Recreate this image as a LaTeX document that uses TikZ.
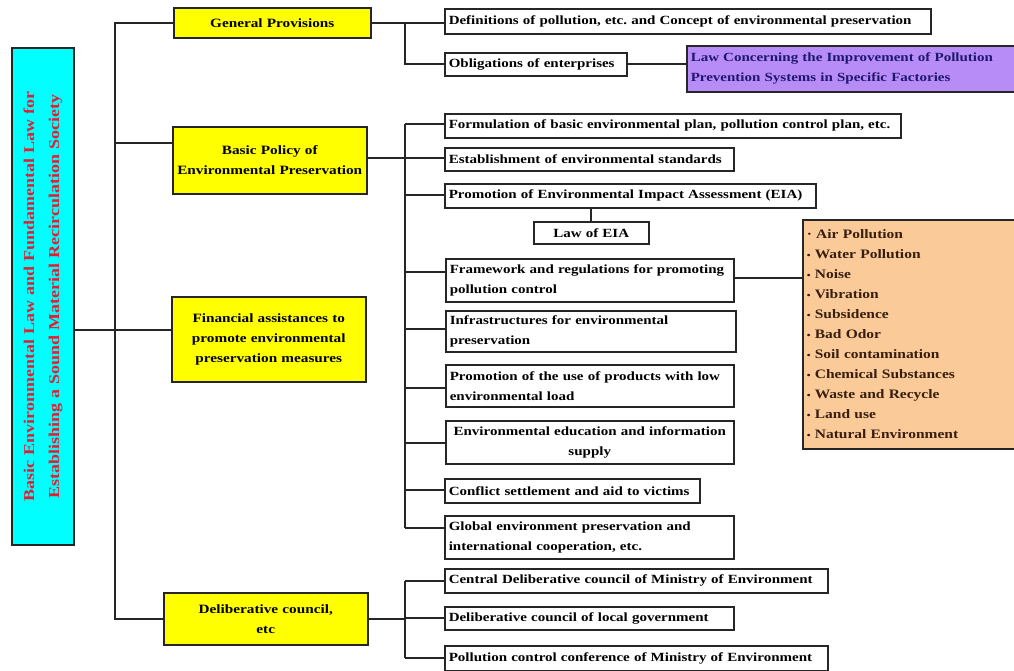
\documentclass[tikz,border=0pt]{standalone}
\usepackage{fontspec}
\setmainfont{Liberation Serif}[FakeStretch=1.2]
\frenchspacing
\definecolor{lawred}{RGB}{228,30,50}
\definecolor{lawcyan}{RGB}{0,255,255}
\definecolor{lawyellow}{RGB}{255,255,0}
\definecolor{lawpurple}{RGB}{184,140,246}
\definecolor{lawnavy}{RGB}{30,24,110}
\definecolor{laworange}{RGB}{250,202,152}
\definecolor{lawbrown}{RGB}{55,30,15}
\tikzset{
  conn/.style={line width=1.6pt, draw=black!85},
  basebox/.style={draw=black!85, line width=1.5pt, anchor=north west,
    inner xsep=4pt, inner ysep=1pt, align=left,
    font=\bfseries\fontsize{12.5}{20}\selectfont},
  sz/.style n args={2}{minimum width=#1pt, minimum height=#2pt,
    text width=\dimexpr#1pt-8pt\relax},
  wbox/.style={basebox, fill=white},
  ybox/.style={basebox, fill=lawyellow, align=center,
    font=\bfseries\fontsize{12.7}{20}\selectfont},
}
\begin{document}
\begin{tikzpicture}[x=1pt, y=-1pt]
\useasboundingbox (0,0) rectangle (1014,670);
\fill[white] (0,0) rectangle (1014,670);

% root law, text running bottom to top
\node[draw=black!85, line width=2.2pt, fill=lawcyan, rotate=90,
  minimum width=497pt, minimum height=62pt, inner sep=2pt,
  text width=485pt, align=center, text=lawred,
  font=\bfseries\fontsize{15}{25}\selectfont] (root) at (43,296.5)
  {Basic Environmental Law and Fundamental Law for\\
   Establishing a Sound Material Recirculation Society};

% chapters
\node[ybox, sz={197}{30}] (gp) at (173,7) {General Provisions};
\node[ybox, sz={194}{67}] (bp) at (172,126) {Basic Policy of\\Environmental Preservation};
\node[ybox, sz={194}{85}] (fin) at (171,296) {Financial assistances to\\promote environmental\\preservation measures};
\node[ybox, sz={204}{52}] (dc) at (163,592) {Deliberative council,\\etc};

% general provisions
\node[wbox, sz={486}{25}] (def) at (444,8) {Definitions of pollution, etc. and Concept of environmental preservation};
\node[wbox, sz={182}{23}] (obl) at (444,52) {Obligations of enterprises};
\node[basebox, fill=lawpurple, text=lawnavy, sz={340}{46},
  font=\bfseries\fontsize{12.5}{20}\selectfont] (law) at (686,45)
  {Law Concerning the Improvement of Pollution\\Prevention Systems in Specific Factories};

% basic policy
\node[wbox, sz={456}{24}] (form) at (444,113) {Formulation of basic environmental plan, pollution control plan, etc.};
\node[wbox, sz={289}{23}] (est) at (444,147) {Establishment of environmental standards};
\node[wbox, sz={371}{24}] (eia) at (444,183) {Promotion of Environmental Impact Assessment (EIA)};
\node[wbox, sz={115}{22}, align=center] (leia) at (533,221) {Law of EIA};
\node[wbox, sz={288}{43}] (fw) at (445,258) {Framework and regulations for promoting\\pollution control};
\node[wbox, sz={290}{41}] (inf) at (445,310) {Infrastructures for environmental\\preservation};
\node[wbox, sz={288}{42}] (prod) at (445,364) {Promotion of the use of products with low\\environmental load};
\node[wbox, sz={288}{43}, align=center] (edu) at (445,420) {Environmental education and information\\supply};
\node[wbox, sz={255}{24}] (conf) at (444,478) {Conflict settlement and aid to victims};
\node[wbox, sz={289}{43}] (glob) at (444,515) {Global environment preservation and\\international cooperation, etc.};

% pollution types
\node[basebox, fill=laworange, text=lawbrown, sz={220}{229}, inner xsep=4pt,
  font=\bfseries\fontsize{12.9}{20}\selectfont] (ora) at (802,219)
  {· Air Pollution\\
   {\fontsize{9}{9}\selectfont•} Water Pollution\\
   {\fontsize{9}{9}\selectfont•} Noise\\
   {\fontsize{9}{9}\selectfont•} Vibration\\
   {\fontsize{9}{9}\selectfont•} Subsidence\\
   {\fontsize{9}{9}\selectfont•} Bad Odor\\
   {\fontsize{9}{9}\selectfont•} Soil contamination\\
   {\fontsize{9}{9}\selectfont•} Chemical Substances\\
   {\fontsize{9}{9}\selectfont•} Waste and Recycle\\
   {\fontsize{9}{9}\selectfont•} Land use\\
   {\fontsize{9}{9}\selectfont•} Natural Environment};

% deliberative councils
\node[wbox, sz={383}{24}] (cent) at (444,568) {Central Deliberative council of Ministry of Environment};
\node[wbox, sz={289}{23}] (loc) at (444,606) {Deliberative council of local government};
\node[wbox, sz={383}{25}] (pcc) at (444,645) {Pollution control conference of Ministry of Environment};

% connectors
\coordinate (tk) at (115,0);
\coordinate (va) at (405,0);
\draw[conn] (root.south |- 0,330) -- (fin.west |- 0,330);
\draw[conn] (gp.west) -| (tk |- dc.west) -- (dc.west);
\draw[conn] (tk |- 0,143) -- (bp.west |- 0,143);

\draw[conn] (gp.east) -- (def.west |- gp.east);
\draw[conn] (va |- gp.east) |- (obl.west);
\draw[conn] (obl.east) -- (law.west |- obl.east);

\draw[conn] (bp.east |- 0,158) -- (va |- 0,158);
\draw[conn] (va |- 0,124) -- (va |- 0,528);
\foreach \n/\yy in {form/124, est/158, eia/195, fw/272, inf/329, prod/388, edu/443, conf/490, glob/528}
  \draw[conn] (va |- 0,\yy) -- (\n.west |- 0,\yy);
\draw[conn] (eia.south -| leia.north) -- (leia.north);
\draw[conn] (fw.east |- 0,278) -- (ora.west |- 0,278);

\draw[conn] (dc.east) -- (va |- dc.east);
\draw[conn] (va |- cent.west) -- (va |- pcc.west);
\foreach \n in {cent, loc, pcc}
  \draw[conn] (va |- \n.west) -- (\n.west);
\end{tikzpicture}
\end{document}
